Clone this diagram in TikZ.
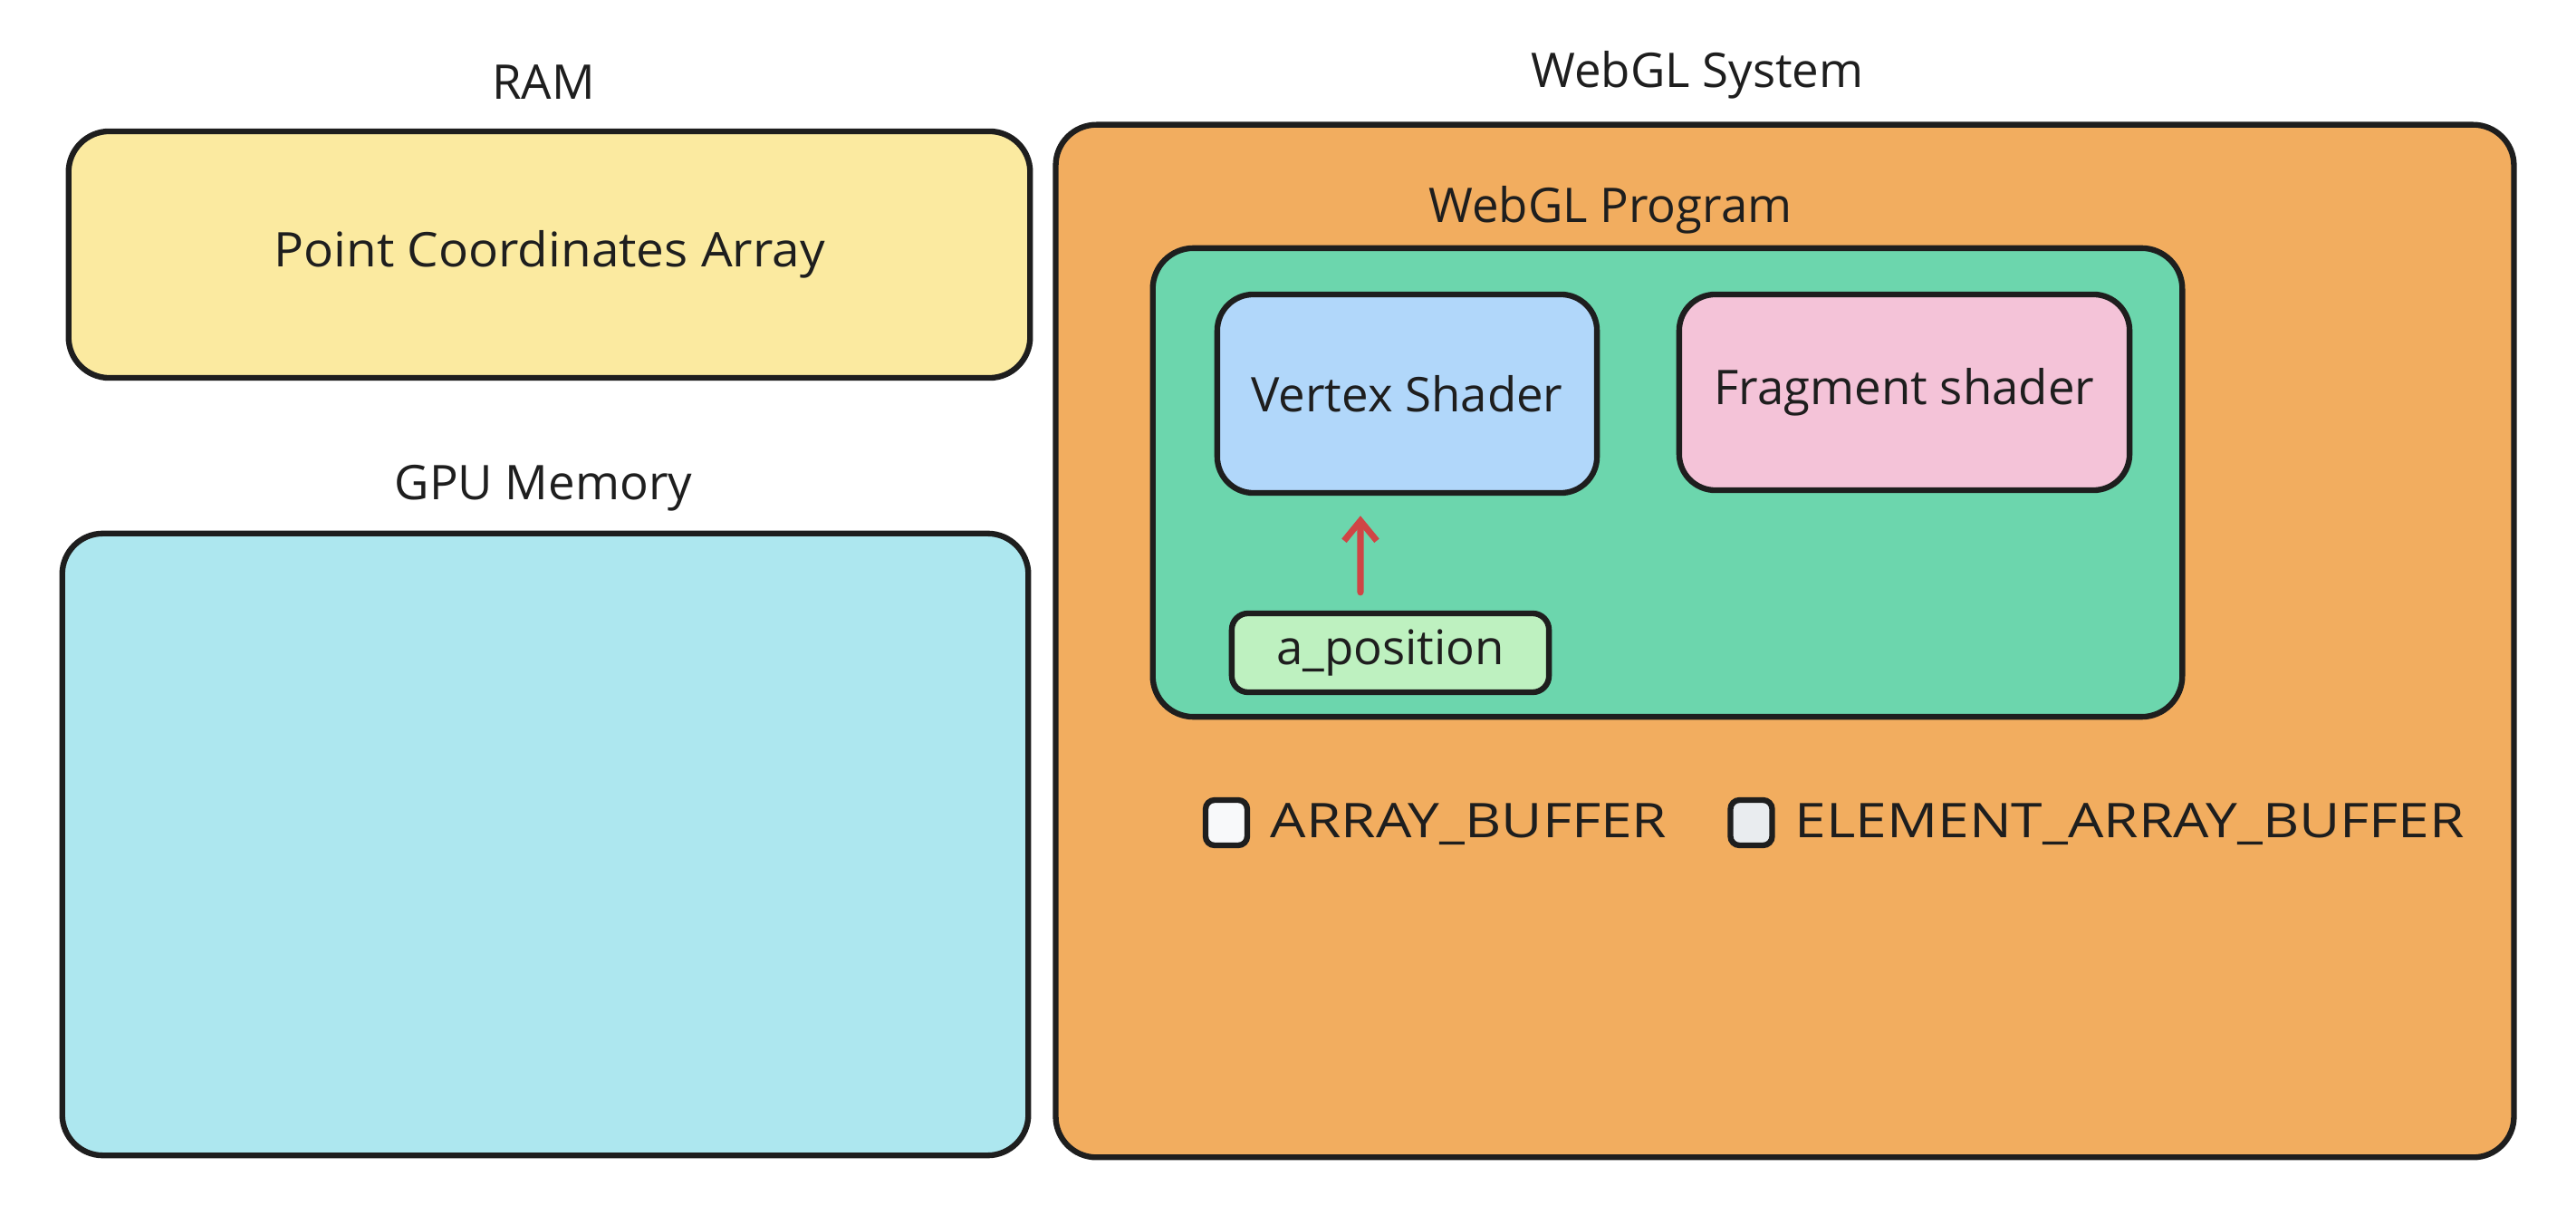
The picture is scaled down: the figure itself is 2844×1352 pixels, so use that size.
\documentclass[tikz,border=0pt]{standalone}
\usepackage{fontspec}
\setmainfont{Open Sans}
\usetikzlibrary{arrows.meta}
\definecolor{strk}{HTML}{1E1E1E}
\definecolor{ramfill}{HTML}{FBEAA0}
\definecolor{gpufill}{HTML}{ADE7EF}
\definecolor{sysfill}{HTML}{F2AD5F}
\definecolor{progfill}{HTML}{6CD6AD}
\definecolor{vsfill}{HTML}{B1D7FA}
\definecolor{fsfill}{HTML}{F4C3D8}
\definecolor{apfill}{HTML}{BEF1C0}
\definecolor{arrowred}{HTML}{D04545}
\definecolor{cbfillA}{HTML}{F8F9FA}
\definecolor{cbfillB}{HTML}{E9ECEF}
\begin{document}
\begin{tikzpicture}[x=0.01cm,y=-0.01cm,
  box/.style={draw=strk, line width=1.8pt, rounded corners=0.45cm, inner sep=0pt, text=strk, font=\fontsize{15}{18}\selectfont},
  lbl/.style={text=strk, font=\fontsize{15}{18}\selectfont, inner sep=0pt},
  caps/.style={text=strk, font=\fontsize{15}{18}\selectfont, inner sep=0pt, anchor=west},
  cbox/.style={draw=strk, line width=1.8pt, rounded corners=0.1cm, minimum width=0.46cm, minimum height=0.5cm, inner sep=0pt},
  redarrow/.style={draw=arrowred, line width=2pt, line cap=round, -{Straight Barb[length=0.22cm, width=0.36cm, line width=2pt]}}
]
\useasboundingbox (0,0) rectangle (2844,1352);

% left column
\node[lbl] (ramt) at (600,91) {RAM};
\node[box, fill=ramfill, minimum width=10.61cm, minimum height=2.72cm] (ram) at (606.5,281) {\scalebox{1.04}[1]{Point Coordinates Array}};
\node[lbl] (gput) at (600,539) {GPU Memory};
\node[box, fill=gpufill, minimum width=10.66cm, minimum height=6.86cm] (gpu) at (602,932) {};

% WebGL system
\node[lbl] (syst) at (1874,83) {WebGL System};
\node[box, fill=sysfill, minimum width=16.09cm, minimum height=11.39cm] (sys) at (1970.5,707.5) {};
\node[lbl] (progt) at (1778,232) {WebGL Program};
\node[box, fill=progfill, minimum width=11.36cm, minimum height=5.17cm] (prog) at (1841,532.5) {};
\node[box, fill=vsfill, rounded corners=0.4cm, minimum width=4.19cm, minimum height=2.19cm] (vs) at (1553.5,434.5) {Vertex Shader};
\node[box, fill=fsfill, rounded corners=0.4cm, minimum width=4.97cm, minimum height=2.16cm] (fs) at (2102.5,433) {Fragment shader};
\node[box, fill=apfill, rounded corners=0.18cm, minimum width=3.5cm, minimum height=0.87cm] (apos) at (1535,720.5) {a\_position};

\draw[redarrow] ([xshift=-0.33cm, yshift=0.2cm]apos.north) -- ([xshift=-0.515cm, yshift=-0.22cm]vs.south);

% buffers
\node[cbox, fill=cbfillA] (cb1) at (1354,908) {};
\node[caps] (cb1t) at (1402,910) {\scalebox{1.18}[1]{ARRAY\_BUFFER}};
\node[cbox, fill=cbfillB] (cb2) at (1933.5,908) {};
\node[caps] (cb2t) at (1981,910) {\scalebox{1.18}[1]{ELEMENT\_ARRAY\_BUFFER}};
\end{tikzpicture}
\end{document}
